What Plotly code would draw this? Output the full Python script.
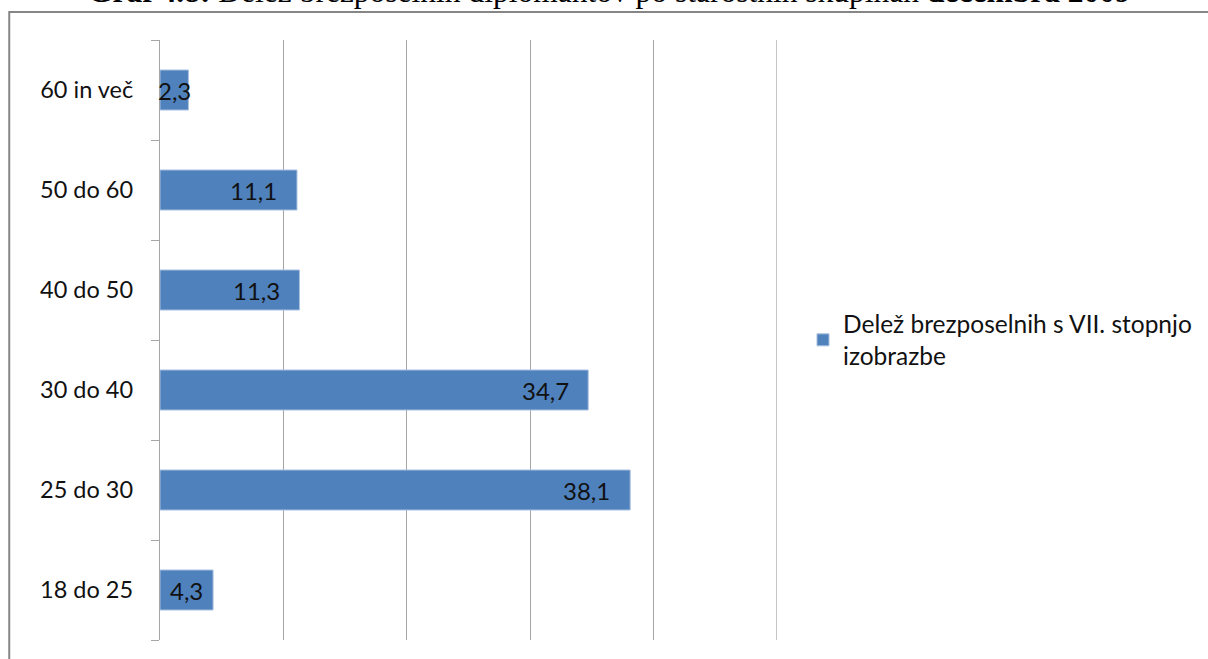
import plotly.graph_objects as go

# Age groups (bottom to top) and share of unemployed graduates, in %
age_groups = ["18 do 25", "25 do 30", "30 do 40", "40 do 50", "50 do 60", "60 in več"]
shares = [4.3, 38.1, 34.7, 11.3, 11.1, 2.3]
series_name = "Delež brezposelnih s VII. stopnjo<br>izobrazbe"
title_text = "<b>Graf 4.8:</b> Delež brezposelnih diplomantov po starostnih skupinah <b>decembra 2009</b>"

W, H = 1208, 659
ML, MR, MT, MB = 160, 430, 40, 19
PW, PH = W - ML - MR, H - MT - MB

BAR = "#4F81BD"
GRID = "#A6A6A6"
FONT = "Lato"
INK = "#111111"


def px_x(px):
    return (px - ML) / PW


def px_y(py):
    return (H - MB - py) / PH


fig = go.Figure()
fig.add_trace(go.Bar(
    y=age_groups, x=shares, orientation="h", name=series_name,
    marker=dict(color=BAR, line=dict(color="#A7BFDE", width=1)),
    showlegend=True,
))

# value labels, placed near the bar end (centred when the bar is short)
for cat, v in zip(age_groups, shares):
    xc = max(v / 2, v - 3.5)
    fig.add_annotation(
        x=xc, y=cat, xref="x", yref="y", text=f"{v:.1f}".replace(".", ","),
        showarrow=False, xanchor="center", yanchor="middle",
        font=dict(family=FONT, size=24, color=INK),
    )

# chart title, partly above the page edge
fig.add_annotation(
    x=px_x(610), y=px_y(-8), xref="paper", yref="paper", text=title_text,
    showarrow=False, xanchor="center", yanchor="middle",
    font=dict(family="Liberation Serif", size=31.5, color="#000000"),
)

# vertical grid line closing the value range
fig.add_shape(
    type="line", xref="x", yref="paper", x0=50, x1=50, y0=0, y1=1,
    line=dict(color=GRID, width=1.3),
)

# chart area frame
fig.add_shape(
    type="rect", xref="paper", yref="paper",
    x0=px_x(9), x1=px_x(1215), y0=px_y(12), y1=px_y(680),
    line=dict(color="#868686", width=2), fillcolor="rgba(0,0,0,0)", layer="below",
)

fig.update_layout(
    width=W, height=H,
    margin=dict(l=ML, r=MR, t=MT, b=MB, pad=0),
    paper_bgcolor="white", plot_bgcolor="white",
    bargap=0.6,
    font=dict(family=FONT, size=22, color=INK),
    xaxis=dict(
        range=[0, 50], dtick=10, showgrid=True, gridcolor=GRID, gridwidth=1.3,
        showticklabels=False, zeroline=False, showline=False, ticks="",
        fixedrange=True,
    ),
    yaxis=dict(
        type="category", categoryorder="array", categoryarray=age_groups,
        showline=True, linecolor=GRID, linewidth=1.3,
        ticks="outside", tickson="boundaries", ticklen=8, tickcolor=GRID,
        tickwidth=1.3, ticklabelstandoff=21, showgrid=False,
        tickfont=dict(family=FONT, size=23.5, color=INK),
    ),
    legend=dict(
        x=px_x(803), y=px_y(340), xanchor="left", yanchor="middle",
        xref="paper", yref="paper", bgcolor="rgba(0,0,0,0)",
        font=dict(family=FONT, size=24.5, color=INK),
        itemwidth=30,
    ),
)

fig.write_html("out.html")
